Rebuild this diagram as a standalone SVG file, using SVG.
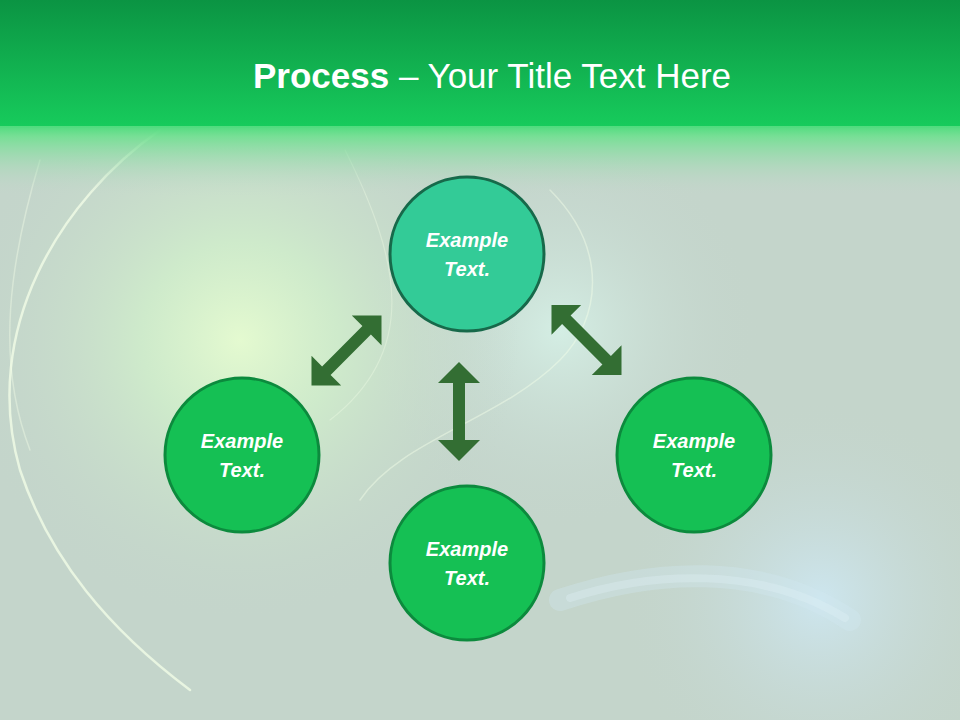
<svg xmlns="http://www.w3.org/2000/svg" width="960" height="720" viewBox="0 0 960 720">
<defs>
<linearGradient id="hdr" x1="0" y1="0" x2="0" y2="1">
<stop offset="0" stop-color="#0b9443"/>
<stop offset="1" stop-color="#17cc5c"/>
</linearGradient>
<linearGradient id="fade" x1="0" y1="0" x2="0" y2="1">
<stop offset="0" stop-color="#4fdc7e" stop-opacity="1"/>
<stop offset="0.15" stop-color="#6fe090" stop-opacity="0.9"/>
<stop offset="1" stop-color="#c4d6cb" stop-opacity="0"/>
</linearGradient>
<radialGradient id="glowL" cx="240" cy="340" r="280" gradientUnits="userSpaceOnUse">
<stop offset="0" stop-color="#e4fad0"/>
<stop offset="0.35" stop-color="#d0eecb" stop-opacity="0.85"/>
<stop offset="1" stop-color="#c4d6cb" stop-opacity="0"/>
</radialGradient>
<radialGradient id="glowB" cx="820" cy="600" r="200" gradientUnits="userSpaceOnUse">
<stop offset="0" stop-color="#cde6ef"/>
<stop offset="1" stop-color="#c4d4cc" stop-opacity="0"/>
</radialGradient>
<radialGradient id="glowC" cx="560" cy="330" r="200" gradientUnits="userSpaceOnUse">
<stop offset="0" stop-color="#d4eee4"/>
<stop offset="1" stop-color="#c4d4cc" stop-opacity="0"/>
</radialGradient>
<path id="arw" d="M0,-49.5 L21,-28.5 L6,-28.5 L6,28.5 L21,28.5 L0,49.5 L-21,28.5 L-6,28.5 L-6,-28.5 L-21,-28.5 Z"/>
<style>
.nodeA{fill:#33cb97;stroke:#17694a;stroke-width:3}
.nodeB{fill:#15c054;stroke:#0c8a3d;stroke-width:3}
.lbl{font-family:"Liberation Sans",Arial,sans-serif;font-weight:bold;font-style:italic;font-size:20px;fill:#ffffff;text-anchor:middle}
.arrow{fill:#336e33}
.streak{fill:none;stroke:#f4ffe8;stroke-linecap:round}
</style>
</defs>
<rect width="960" height="720" fill="#c4d5cb"/>
<rect width="960" height="720" fill="url(#glowC)"/>
<rect width="960" height="720" fill="url(#glowL)"/>
<rect width="960" height="720" fill="url(#glowB)"/>
<path class="streak" stroke-opacity="0.75" stroke-width="2.5" d="M160,130 C60,200 -20,330 20,470 C50,560 110,630 190,690"/>
<path class="streak" stroke-opacity="0.4" stroke-width="1.5" d="M40,160 C10,260 -5,360 30,450"/>
<path class="streak" stroke-opacity="0.45" stroke-width="1.5" d="M550,190 C610,250 600,320 560,360 C500,420 400,440 360,500"/>
<path class="streak" stroke-opacity="0.35" stroke-width="1.2" d="M345,150 C400,260 420,350 330,420"/>
<path fill="none" stroke="#d0e8f0" stroke-opacity="0.35" stroke-width="22" stroke-linecap="round" d="M560,600 C650,570 760,560 850,620"/>
<path fill="none" stroke="#dff0f5" stroke-opacity="0.35" stroke-width="8" stroke-linecap="round" d="M570,598 C650,572 760,565 845,618"/>
<rect x="0" y="0" width="960" height="128" fill="url(#hdr)"/>
<rect x="0" y="126" width="960" height="70" fill="url(#fade)"/>
<text x="492" y="88" font-family="Liberation Sans,Arial,sans-serif" font-size="35" fill="#ffffff" text-anchor="middle"><tspan font-weight="bold">Process</tspan> – Your Title Text Here</text>
<g id="connectors">
<use href="#arw" class="arrow" transform="translate(459,411.5)"/>
<use href="#arw" class="arrow" transform="translate(346.5,350.5) rotate(45)"/>
<use href="#arw" class="arrow" transform="translate(586.5,340) rotate(-45)"/>
</g>
<g id="node-top">
<circle class="nodeA" cx="467" cy="254" r="77"/>
<text class="lbl" x="467" y="247">Example</text>
<text class="lbl" x="467" y="276">Text.</text>
</g>
<g id="node-left">
<circle class="nodeB" cx="242" cy="455" r="77"/>
<text class="lbl" x="242" y="448">Example</text>
<text class="lbl" x="242" y="477">Text.</text>
</g>
<g id="node-right">
<circle class="nodeB" cx="694" cy="455" r="77"/>
<text class="lbl" x="694" y="448">Example</text>
<text class="lbl" x="694" y="477">Text.</text>
</g>
<g id="node-bottom">
<circle class="nodeB" cx="467" cy="563" r="77"/>
<text class="lbl" x="467" y="556">Example</text>
<text class="lbl" x="467" y="585">Text.</text>
</g>
</svg>
